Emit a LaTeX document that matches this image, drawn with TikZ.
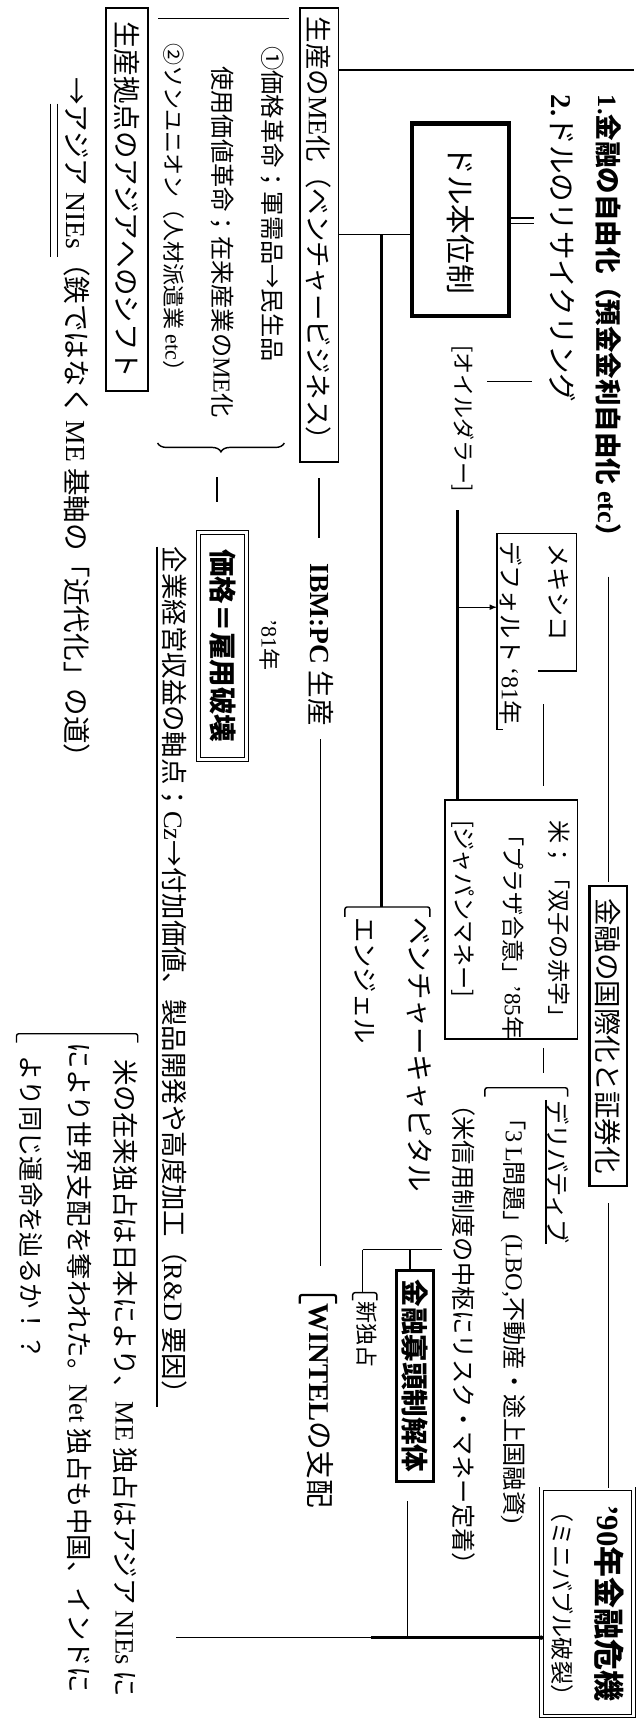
\documentclass[tikz,border=0pt]{standalone}
\usepackage{fontspec}
\setmainfont{Noto Sans CJK JP}
\newfontfamily\lat{Liberation Serif}
\usetikzlibrary{arrows}
\usetikzlibrary{calc}
\usetikzlibrary{positioning}
\usetikzlibrary{decorations.pathreplacing}

\newcommand{\setsz}[1]{\fontsize{#1}{#1}\selectfont}
\newcommand{\rom}[1]{{\lat #1}}

\tikzset{
	txt/.style={rotate=-90, anchor=west, inner sep=0pt},
	boxtxt/.style={rotate=-90, draw, line width=1.5pt, inner sep=2pt},
	frame/.style={draw, line width=1.5pt, inner sep=0pt},
	conn/.style={line width=1.3pt},
	thickconn/.style={line width=2.6pt},
	bracket/.style={line width=1.3pt, rounded corners=2pt},
}

\begin{document}
\begin{tikzpicture}[x=1pt,y=-1pt]
	\useasboundingbox (0,0) rectangle (577,1568);
	
	% top row
	\node[txt, font=\setsz{24}\bfseries] (lib) at (552,86) {\rom{1.}金融の自由化（預金金利自由化 \rom{etc}）};
	\node[txt, font=\setsz{26}] (recyc) at (510,86) {\rom{\textbf{2.}}ドルのリサイクリング};
	\node[boxtxt, line width=3.8pt, minimum width=175pt, minimum height=88pt, font=\setsz{27}] (dollar) at (418,199.5) {ドル本位制};
	\draw[conn] ([yshift=1.5pt]dollar.north) -- ++(21,0);
	\draw[conn] ([yshift=-3.5pt]dollar.north) -- ++(21,0);
	\node[txt, font=\setsz{20}] (oil) at (420,313) {[オイルダラー]};
	\coordinate (oiltick) at (442,346);
	\draw[conn] (oiltick) -- ++(41,0);
	
	\node[boxtxt, line width=2pt, minimum width=272pt, minimum height=34pt, font=\setsz{25}] (kokusai) at (552,940) {金融の国際化と証券化};
	\draw[conn, shorten <=24pt, shorten >=3pt] (lib.east) -- (kokusai.west);
	
	\node[frame, double, double distance=2.5pt, line width=0.9pt, minimum width=83pt, minimum height=206pt] (crisis) at (533,1454) {};
	\node[txt, font=\setsz{28}\bfseries] (crisisA) at (553,1366) {\rom{’90}年金融危機};
	\node[txt, font=\setsz{21}] (crisisB) at (510,1360) {（ミニバブル破裂）};
	\draw[conn, shorten <=15pt] (kokusai.east) -- (kokusai.east |- crisis.north);
	
	% mexico and usa
	\coordinate (joil) at (415,463);
	\node[frame, minimum width=120pt, minimum height=217pt] (usa) at (464,834.5) {};
	\draw[thickconn] (joil) -- (joil |- usa.north);
	\draw[conn] (488,609) -- (523,609) -- (523,484) -- (451,484) -- (451,662) -- (456,662);
	\coordinate (mexl) at (451,551);
	\draw[conn, -latex] (joil |- mexl) -- (mexl);
	\node[txt, font=\setsz{22}] (mex) at (507,493) {メキシコ};
	\node[txt, font=\setsz{22}] (default) at (464,491) {デフォルト \rom{‘81}年};
	\coordinate (m1) at (493,639);
	\draw[conn, shorten >=12pt] (m1) -- (m1 |- usa.north);
	\node[txt, font=\setsz{21}] (twin) at (507,744) {米；「双子の赤字」};
	\node[txt, font=\setsz{21}] (plaza) at (466,747) {「プラザ合意」\rom{’85}年};
	\node[txt, font=\setsz{21}] (jmoney) at (420,744) {[ジャパンマネー]};
	\draw[conn, shorten <=7pt] (usa.south -| m1) -- ++(0,30);
	
	\draw[bracket] (440,995) -- (440,987) -- (515,987) -- (515,995);
	\node[txt, font=\setsz{22}] (deriv) at (506,998) {デリバティブ};
	\draw[conn] (deriv.south west) -- (deriv.south east);
	\node[txt, font=\setsz{22}] (threeL) at (466,1004) {「\rom{3\,L}問題」\rom{(LBO,}不動産・途上国融資\rom{)}};
	\node[txt, font=\setsz{22}] (risk) at (421,991) {（米信用制度の中枢にリスク・マネー定着）};
	
	% me row
	\node[boxtxt, minimum width=411.5pt, minimum height=35pt, font=\setsz{24}] (me) at (289.5,213.25) {生産の\rom{ME}化（ベンチャービジネス）};
	\node[boxtxt, minimum width=347.5pt, minimum height=38pt, font=\setsz{25}] (shift) at (115,181.25) {生産拠点のアジアへのシフト};
	\coordinate (topend) at (575,63.5);
	\draw[conn] (me.north |- topend) -- (topend);
	\coordinate (jsh) at (0,16.6);
	\draw[conn, shorten <=9pt, shorten >=9pt] (shift.north |- jsh) -- (me.south |- jsh);
	
	\coordinate (jd) at (346,213);
	\draw[conn] (me.north |- jd) -- (dollar.south |- jd);
	\coordinate (vbr) at (346,823);
	\draw[thickconn] (jd) -- (vbr);
	\draw[bracket] (313,832) -- (313,823) -- (390,823) -- (390,832);
	\node[txt, font=\setsz{25}] (vc) at (381,832) {ベンチャーキャピタル};
	\node[txt, font=\setsz{23}] (angel) at (331,832) {エンジェル};
	
	\node[boxtxt, line width=2.6pt, minimum width=191pt, minimum height=33pt, font=\setsz{25}\bfseries] (kato) at (376.5,1248.5) {金融寡頭制解体};
	\coordinate (tl) at (329,1134);
	\coordinate (tr) at (401,1134);
	\coordinate (tj) at (372,1134);
	\draw[conn] (tl) -- (tr);
	\draw[conn] (tj) -- (tj |- kato.west);
	\coordinate (nb) at (329,1173);
	\draw[conn] (tl) -- (nb);
	\draw[bracket] (320,1180) -- (320,1173) -- (342,1173) -- (342,1180);
	\node[txt, font=\setsz{20}] (newmono) at (333,1181) {新独占};
	
	\coordinate (jk) at (370,1486);
	\draw[conn, shorten <=17pt] (jk |- kato.east) -- (jk);
	\coordinate (bigl) at (160,1486);
	\coordinate (bigm) at (337,1486);
	\draw[conn] (bigl) -- (bigm);
	\draw[thickconn] (bigm) -- (crisis.west |- jk);
	\fill (crisis.west |- jk) circle (2pt);
	
	\node[txt, font=\setsz{25}] (ibm) at (291,511) {\rom{\textbf{IBM:PC}} 生産};
	\draw[conn, shorten <=14pt, shorten >=23pt] (me.east) -- (me.east |- ibm.west);
	\draw[bracket, line width=2pt] (272,1183) -- (272,1175) -- (305,1175) -- (305,1183);
	\node[txt, font=\setsz{26}] (wintel) at (291,1183) {\rom{\textbf{WINTEL}}の支配};
	\draw[conn, shorten <=12pt, shorten >=34pt] (ibm.east) -- (ibm.east |- wintel.west);
	
	% left rows
	\node[txt, font=\setsz{22}] (rev1) at (247,42) {①価格革命；軍需品→民生品};
	\node[txt, font=\setsz{22}] (rev2) at (202,60) {使用価値革命；在来産業の\rom{ME}化};
	\node[txt, font=\setsz{20}] (union) at (158,39) {②ソンユニオン（人材派遣業 \rom{etc}）};
	\draw[conn, decorate, decoration={brace, amplitude=8pt}] (258,402) -- (143,402);
	\coordinate (btip) at (197,433);
	\node[boxtxt, double, double distance=2.5pt, line width=0.9pt, minimum width=206pt, minimum height=44pt, font=\setsz{25}\bfseries] (kakaku) at (202,586) {価格＝雇用破壊};
	\draw[conn, shorten >=27pt] (btip) -- (btip |- kakaku.west);
	\node[txt, font=\setsz{20}] (y81) at (245,562) {\rom{’81}年};
	
	\node[txt, font=\setsz{24}] (kigyo) at (158,496) {企業経営収益の軸点；\rom{Cz}→付加価値、製品開発や高度加工（\rom{R\&D} 要因）};
	\draw[conn] ([xshift=-4pt]kigyo.south west) -- ([xshift=-4pt]kigyo.south east);
	
	\node[txt, font=\setsz{25}] (nies) at (70,70) {→アジア \rom{NIEs}（鉄ではなく \rom{ME} 基軸の「近代化」の道）};
	\draw[conn] ([xshift=-24pt,yshift=-24pt]nies.west) -- ++(0,139);
	\draw[conn] ([xshift=-18pt,yshift=-24pt]nies.west) -- ++(0,139);
	
	\draw[bracket] (15,946) -- (15,938) -- (125,938) -- (125,946);
	\node[txt, font=\setsz{24}] (fateA) at (114,961) {米の在来独占は日本により、\rom{ME} 独占はアジア \rom{NIEs} に};
	\node[txt, font=\setsz{24}] (fateB) at (72,946) {により世界支配を奪われた。\rom{Net} 独占も中国、インドに};
	\node[txt, font=\setsz{23}] (fateC) at (28,958) {より同じ運命を辿るか！？};
\end{tikzpicture}
\end{document}
